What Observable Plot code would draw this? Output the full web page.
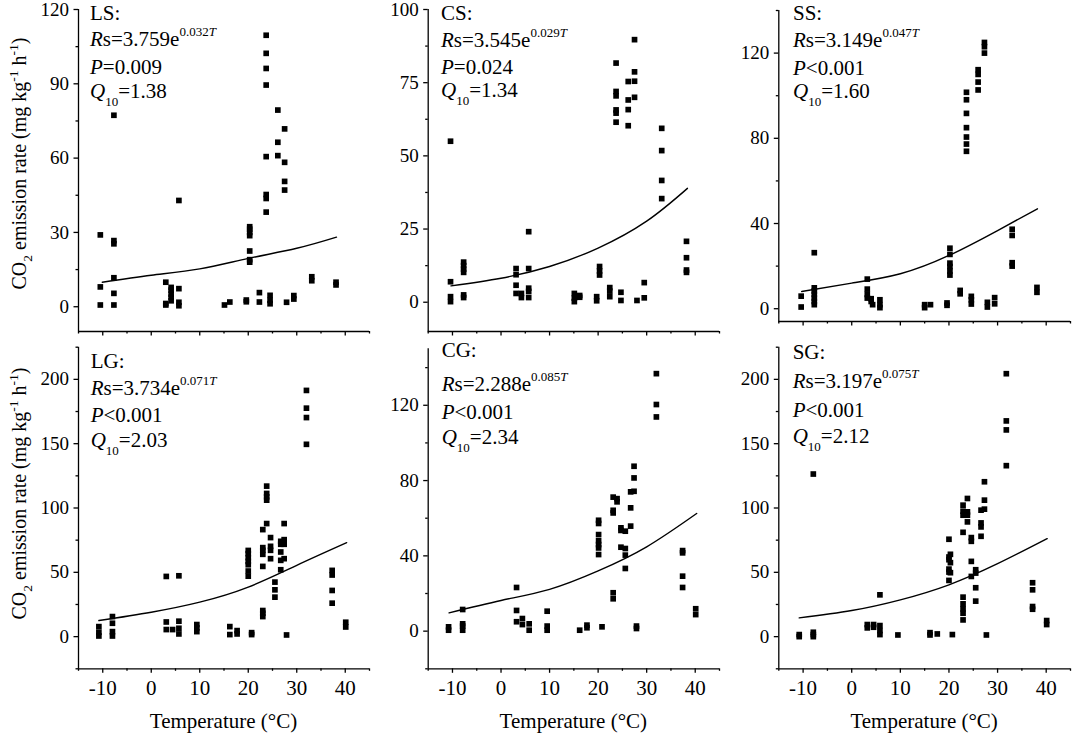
<!DOCTYPE html>
<html><head><meta charset="utf-8">
<script src="https://cdn.jsdelivr.net/npm/d3@7"></script>
<script src="https://cdn.jsdelivr.net/npm/@observablehq/plot@0.6"></script>
<style>
html,body{margin:0;padding:0;background:#fff;}
#chart{position:relative;width:1072px;height:733px;overflow:hidden;font-family:"Liberation Serif","Times New Roman",serif;}
#chart svg{position:absolute;overflow:visible;}
</style></head><body><div id="chart"></div>
<script>
// ---------------- data ----------------
const xMajorTicks = [-10, 0, 10, 20, 30, 40];
const xMinorTicks = [-15, -5, 5, 15, 25, 35, 45];

const panelNames = ["LS", "CS", "SS", "LG", "CG", "SG"];
const fitA = ["3.759", "3.545", "3.149", "3.734", "2.288", "3.197"];
const fitB = ["0.032", "0.029", "0.047", "0.071", "0.085", "0.075"];
const fitP = ["=0.009", "=0.024", "<0.001", "<0.001", "<0.001", "<0.001"];
const fitQ10 = ["1.38", "1.34", "1.60", "2.03", "2.34", "2.12"];

const lsTemps = [-10.5, -7.7, 3.0, 4.1, 5.7, 15.1, 16.2, 19.6, 20.3, 22.3, 23.7, 24.5, 26.1, 27.5, 27.9, 29.4, 33.1, 38.1];
const lsRates = [
  [29, 8, 0.7], [77.3, 26.7, 25.4, 11.7, 5.4, 0.7], [9.9, 1.3, 0.7], [7.8, 6.7, 5.1, 3.8, 2.4],
  [42.9, 7.3, 1.8, 0.4], [0.7], [1.9], [2.7, 2.0], [32.3, 31.3, 30, 28.7, 22.5, 19, 18], [5.7, 1.9],
  [109.6, 102.3, 96.2, 89.5, 60.6, 45.3, 43.7, 38.2], [4.6, 2.6, 1.2], [79.4, 66.4, 61],
  [71.8, 58.3, 50.6, 47.1], [1.8], [4.5, 3.1], [12.1, 10.5], [9.9, 8.8]
];
const lsCurveTemps = [-10.1, 0, 10, 20, 30, 38.2];
const lsCurveRates = [9.9, 12.7, 15.3, 19.5, 23.6, 28.1];
const lsYTicks = [0, 30, 60, 90, 120];
const lsYMinor = [15, 45, 75, 105];

const csTemps = [-10.4, -7.7, 3.1, 4.2, 5.7, 15.1, 16.2, 19.7, 20.3, 22.4, 23.7, 24.7, 26.2, 27.5, 28.0, 29.5, 33.1, 38.2];
const csRates = [
  [55, 7, 1.9, 0.2], [13.7, 12.5, 11.3, 10.2, 2.5, 1.6], [11.5, 9.4, 5.8, 3], [3, 1.6],
  [24.1, 11.5, 4.8, 3.7, 1.6], [3, 1.4, 0.2], [2.3, 1.7], [1.9, 0.5], [12.2, 10.7, 9.3], [5, 3.8, 1.9],
  [81.7, 72, 70.5, 65.7, 64.6, 61.5], [3.4, 0.6], [75.4, 69.1, 65.8, 60.3], [89.7, 78.7, 75.5, 70],
  [0.6], [6.7, 1.5], [59.4, 51.8, 41.6, 35.4], [20.8, 15.2, 11, 10.2]
];
const csCurveTemps = [-10.3, 0, 10, 20, 30, 38.4];
const csCurveRates = [5.6, 8.2, 12.2, 18.5, 27.7, 38.9];
const csYTicks = [0, 25, 50, 75, 100];
const csYMinor = [12.5, 37.5, 62.5, 87.5];

const ssTemps = [-10.4, -7.7, 3.2, 4.0, 4.3, 5.8, 15.0, 16.2, 19.6, 20.2, 22.3, 23.6, 24.6, 26.0, 27.3, 27.9, 29.4, 33.0, 38.1];
const ssRates = [
  [5.9, 0.8], [26.3, 9.8, 8.3, 6.7, 5, 3.4, 1.9], [13.9, 9.2, 6.7, 5], [4.7, 3.4], [1.9],
  [4.2, 1.9, 0.5], [1.9, 0.5], [1.9], [2.7, 1.6], [28.4, 25.5, 21.4, 19.8, 17.7, 15.8], [8.6, 7],
  [101.6, 98.1, 91.7, 85, 80.6, 77.3, 73.9], [5.8, 4.2, 2.2], [112.2, 110, 106.4, 102.7],
  [125, 123, 120], [3, 0.8], [5.2, 2.3], [37.3, 34.4, 21.6, 20], [10, 7.7]
];
const ssCurveTemps = [-10.3, 0, 10, 20, 30, 38.2];
const ssCurveRates = [8.1, 12.0, 16.4, 25.0, 36.7, 46.9];
const ssYTicks = [0, 40, 80, 120];
const ssYMinor = [20, 60, 100, 140];

const lgTemps = [-10.8, -8.0, 3.1, 4.4, 5.7, 9.4, 16.2, 17.7, 20.0, 20.7, 23.0, 23.8, 24.6, 25.5, 26.7, 27.4, 27.9, 32.0, 37.3, 40.1];
const lgRates = [
  [7.8, 3.4, 0.5], [15.6, 10.4, 3.9, 0.5], [46.8, 11.4, 5.5], [5.5], [47.3, 12, 6.5, 2.1],
  [9.4, 6.8, 3.9], [7.8, 1.6], [4.7, 2.1], [67, 64.5, 61.4, 58.5, 55.9, 51, 47], [3.1, 1.6],
  [83.2, 69.2, 67.1, 64, 54.6, 20.3, 18.2, 15.6], [117, 111.3, 108.7, 106.1, 87.9],
  [77, 70.2, 67.1, 60.6], [42.4, 36.4, 30.7], [74.1, 71.8, 65.8, 59.3, 52], [87.9, 75.4, 71.8, 60.6],
  [1.3], [191.4, 177.6, 170.3, 149.5], [51.5, 47.9, 35.9, 26], [11.2, 7.5]
];
const lgCurveTemps = [-10.8, 0, 10, 20, 30, 40.3];
const lgCurveRates = [12.5, 19.0, 26.8, 38.5, 55.4, 73.0];
const lgYTicks = [0, 50, 100, 150, 200];
const lgYMinor = [-25, 25, 75, 125, 175, 225];

const cgTemps = [-10.8, -7.9, 3.2, 4.4, 5.8, 9.5, 16.2, 17.7, 20.1, 20.8, 23.1, 23.9, 24.7, 25.6, 26.7, 27.4, 27.9, 32.0, 37.4, 40.1];
const cgRates = [
  [2.3, 0.5], [11.5, 3.9, 2.7, 0.5], [23.2, 11, 5], [6.7, 3.5], [3.9, 0.5], [10.6, 2.7, 0.5],
  [0.5], [3.2, 1.8], [58.9, 57.2, 51.3, 48, 46, 44.2, 40.7], [2.3], [71.2, 64.2, 62.8, 20.4, 17.2],
  [70.4, 68.7], [54.9, 53.5, 44.6], [53.1, 43.9, 40.4, 33.3], [74, 65.5, 55.8], [87.6, 81.4, 74.3],
  [2.7, 1.4], [136.8, 120.4, 113.8], [42.8, 41.6, 29.2, 23.2], [11.9, 8.8]
];
const cgCurveTemps = [-10.7, 0, 10, 20, 30, 40.3];
const cgCurveRates = [9.7, 16.3, 22.2, 32.0, 44.8, 62.5];
const cgYTicks = [0, 40, 80, 120];
const cgYMinor = [-20, 20, 60, 100, 140];

const sgTemps = [-10.8, -7.9, 3.2, 4.5, 5.8, 9.5, 16.1, 17.6, 20.0, 20.3, 20.7, 22.9, 23.8, 24.6, 25.5, 26.6, 27.3, 27.7, 31.8, 37.2, 40.1];
const sgRates = [
  [1.6, 0], [126.4, 3.4, 1.6, 0], [9.4, 6.8], [9.4, 7.3], [32.5, 8.6, 4.7, 1.6], [1.3], [3.1, 1.3],
  [2.1], [75.7, 61.9, 59.8, 52.5, 50.2, 43.7], [64, 57.5, 49.7], [1.6],
  [102.2, 97.5, 94.4, 81.1, 30.7, 25.5, 21.6, 18.2, 13], [107.4, 97, 94.4, 89.2],
  [77, 74.1, 58.5, 46.8], [52, 49.4, 38, 27.6], [98.3, 88.4, 85.3, 78], [120.4, 106.1, 99.1],
  [1.3], [204.4, 167.7, 160.7, 132.9], [41.9, 36.4, 23.4, 21.3], [12.5, 9.4]
];
const sgCurveTemps = [-10.8, 0, 10, 20, 30, 40.2];
const sgCurveRates = [14.6, 20.3, 28.6, 40.3, 56.7, 76.2];
const sgYTicks = [0, 50, 100, 150, 200];
const sgYMinor = [-25, 25, 75, 125, 175, 225];

// ---------------- layout ----------------
const FONT = '"Liberation Serif","Times New Roman",serif';
const layout = [
  {temps: lsTemps, rates: lsRates, ct: lsCurveTemps, cr: lsCurveRates, yt: lsYTicks, ym: lsYMinor,
   left: 0, top: 0, width: 372, height: 345, ml: 78, mr: 3, mt: 9, mb: 14, yDomain: [-10, 120],
   textX: 90, base: [20.3, 45.5, 74, 98], xLabels: false},
  {temps: csTemps, rates: csRates, ct: csCurveTemps, cr: csCurveRates, yt: csYTicks, ym: csYMinor,
   left: 355, top: 0, width: 367, height: 345, ml: 72.7, mr: 3, mt: 9, mb: 14, yDomain: [-10, 100],
   textX: 441, base: [20, 46.7, 74, 97.3], xLabels: false},
  {temps: ssTemps, rates: ssRates, ct: ssCurveTemps, cr: ssCurveRates, yt: ssYTicks, ym: ssYMinor,
   left: 710, top: 0, width: 362, height: 345, ml: 68.3, mr: 2, mt: 10, mb: 24, yDomain: [-6, 140],
   textX: 793, base: [20, 47, 75, 98], xLabels: false},
  {temps: lgTemps, rates: lgRates, ct: lgCurveTemps, cr: lgCurveRates, yt: lgYTicks, ym: lgYMinor,
   left: 0, top: 340, width: 372, height: 393, ml: 78, mr: 3, mt: 6.7, mb: 64.7, yDomain: [-25, 225],
   textX: 90.7, base: [368, 395, 422, 447], xLabels: true},
  {temps: cgTemps, rates: cgRates, ct: cgCurveTemps, cr: cgCurveRates, yt: cgYTicks, ym: cgYMinor,
   left: 355, top: 340, width: 367, height: 393, ml: 72.7, mr: 3, mt: 8.3, mb: 64.7, yDomain: [-20, 150],
   textX: 441.7, base: [357, 391, 419, 443.5], xLabels: true},
  {temps: sgTemps, rates: sgRates, ct: sgCurveTemps, cr: sgCurveRates, yt: sgYTicks, ym: sgYMinor,
   left: 710, top: 340, width: 362, height: 393, ml: 68.3, mr: 2, mt: 6.7, mb: 64.7, yDomain: [-25, 225],
   textX: 792.7, base: [359, 388, 417, 443], xLabels: true}
];

const chart = document.getElementById("chart");

function richText(sel, x, y, size, parts, attrs = {}) {
  const t = sel.append("text").attr("x", x).attr("y", y)
    .attr("font-size", size).attr("font-family", FONT).attr("fill", "#000")
    .attr("text-anchor", "start");
  for (const [k, v] of Object.entries(attrs)) t.attr(k, v);
  for (const p of parts) {
    const ts = t.append("tspan").text(p.t).attr("fill", "#000");
    if (p.i) ts.attr("font-style", "italic");
    if (p.s) ts.attr("font-size", p.s);
    if (p.dy) ts.attr("dy", p.dy);
  }
  return t;
}

layout.forEach((L, k) => {
  const pts = L.temps.flatMap((t, i) => L.rates[i].map(v => ({t, v})));
  const curve = L.ct.map((t, i) => ({t, v: L.cr[i]}));
  const svg = Plot.plot({
    width: L.width, height: L.height,
    marginLeft: L.ml, marginRight: L.mr, marginTop: L.mt, marginBottom: L.mb,
    style: {fontFamily: FONT, fontSize: "19px", color: "black", background: "none", overflow: "visible"},
    x: {domain: [-15, 45]},
    y: {domain: L.yDomain},
    marks: [
      Plot.ruleX([-15], {stroke: "black", strokeWidth: 1.3}),
      Plot.ruleY([L.yDomain[0]], {stroke: "black", strokeWidth: 1.3}),
      Plot.axisY({ticks: L.yt, tickSize: 4.5, tickPadding: 5, tickFormat: d => String(d),
        label: null, fontSize: 19, strokeWidth: 1.3}),
      Plot.axisY({ticks: L.ym, tickSize: 2.5, tickFormat: () => "", label: null, strokeWidth: 1.3}),
      Plot.axisX({ticks: xMajorTicks, tickSize: 4.5, tickPadding: 7,
        tickFormat: L.xLabels ? d => String(d) : () => "", label: null, fontSize: 21, strokeWidth: 1.3}),
      Plot.axisX({ticks: xMinorTicks, tickSize: 2.5, tickFormat: () => "", label: null, strokeWidth: 1.3}),
      Plot.line(curve, {x: "t", y: "v", curve: "natural", stroke: "black", strokeWidth: 1.4}),
      Plot.dot(pts, {x: "t", y: "v", symbol: "square", r: 3.2, fill: "black", stroke: "none"})
    ]
  });
  svg.style.left = L.left + "px";
  svg.style.top = L.top + "px";
  const s = d3.select(svg);
  const x0 = L.textX - L.left;
  const b = L.base.map(v => v - L.top);
  richText(s, x0, b[0], 21, [{t: panelNames[k] + ":"}]);
  richText(s, x0, b[1], 21, [{t: "R", i: true}, {t: "s=" + fitA[k] + "e"},
    {t: fitB[k], s: 13, dy: -10}, {t: "T", i: true, s: 13}]);
  richText(s, x0, b[2], 21, [{t: "P", i: true}, {t: fitP[k]}]);
  richText(s, x0, b[3], 21, [{t: "Q", i: true}, {t: "10", s: 13, dy: 8}, {t: "=" + fitQ10[k], dy: -8}]);
  chart.appendChild(svg);
});

// titles overlay
const over = d3.select(chart).append("svg")
  .attr("width", 1072).attr("height", 733).style("left", "0px").style("top", "0px")
  .style("pointer-events", "none");
const yTitleParts = [{t: "CO"}, {t: "2", s: 13.5, dy: 6}, {t: " emission rate (mg kg", dy: -6},
  {t: "-1", s: 13.5, dy: -8}, {t: " h", dy: 8}, {t: "-1", s: 13.5, dy: -8}, {t: ")", dy: 8}];
[163.5, 493.5].forEach(cy => {
  richText(over, 0, 0, 20, yTitleParts,
    {"text-anchor": "middle", transform: `translate(26,${cy}) rotate(-90)`});
});
[[78, 369], [427.7, 719], [778.3, 1070]].forEach(([a, c]) => {
  richText(over, (a + c) / 2, 728, 21, [{t: "Temperature (°C)"}], {"text-anchor": "middle"});
});
</script></body></html>
